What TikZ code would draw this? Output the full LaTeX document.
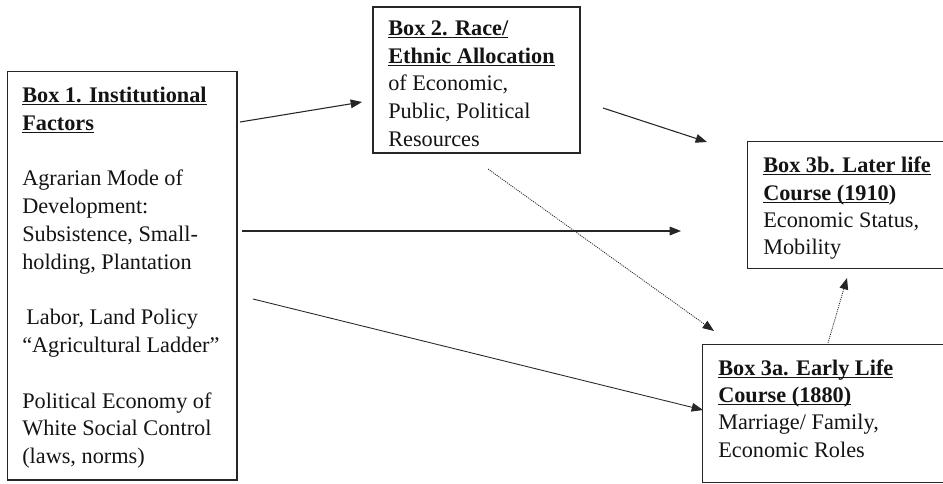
\documentclass[tikz,border=0pt]{standalone}
\usepackage{fontspec}
\setmainfont{Liberation Serif}
\usetikzlibrary{arrows.meta,fit}
\newcommand{\ulx}[1]{\setbox0=\hbox{#1}\rlap{\rule[-2.4pt]{\wd0}{1.1pt}}\box0}
\begin{document}
\begin{tikzpicture}[x=0.75pt,y=-0.75pt,
  box/.style={draw=black!85, line width=0.8pt, inner sep=0pt},
  bigbox/.style={box, line width=1.1pt},
  openbox/.style={inner sep=0pt},
  edge/.style={draw=black!85, line width=0.8pt},
  txt/.style={anchor=base west, inner sep=0pt, text=black!92, font=\fontsize{16.7}{20}\selectfont},
  btxt/.style={txt, font=\fontsize{16.7}{20}\selectfont\bfseries},
  arr/.style={line width=0.8pt, draw=black!85, -{Triangle[length=8.5pt,width=6.5pt]}},
  darr/.style={line width=0.6pt, draw=black!85, dash pattern=on 0.8pt off 0.8pt, -{Triangle[length=8.5pt,width=6.5pt]}}
]
\useasboundingbox (0,0) rectangle (943,483);
\fill[white] (0,0) rectangle (943,483);

% boxes
\node[bigbox, fit={(7.5,71.5) (237,480)}] (b1) {};
\node[box, fit={(373,7) (580,153)}] (b2) {};
\node[openbox, fit={(748,142) (943,268)}] (b3b) {};
\node[openbox, fit={(703,345) (943,482)}] (b3a) {};
\draw[edge] (b3b.north east) -- (b3b.north west) -- (b3b.south west) -- (b3b.south east);
\draw[edge] (b3a.north east) -- (b3a.north west) -- (b3a.south west) -- (b3a.south east);

% Box 1 text
\node[btxt] (b1t1) at (22,102) {\ulx{Box 1. Institutional}};
\node[btxt] (b1t2) at (22,130) {\ulx{Factors}};
\node[txt] (b1t3) at (22,185) {Agrarian Mode of};
\node[txt] (b1t4) at (22,213) {Development:};
\node[txt] (b1t5) at (22,241) {Subsistence, Small-};
\node[txt] (b1t6) at (22,269) {holding, Plantation};
\node[txt] (b1t7) at (26,324) {Labor, Land Policy};
\node[txt] (b1t8) at (22,352) {“Agricultural Ladder”};
\node[txt] (b1t9) at (22,408) {Political Economy of};
\node[txt] (b1t10) at (22,435) {White Social Control};
\node[txt] (b1t11) at (22,463) {(laws, norms)};

% Box 2 text
\node[btxt] (b2t1) at (388,35) {\ulx{Box 2. Race/}};
\node[btxt] (b2t2) at (388,63) {\ulx{Ethnic Allocation}};
\node[txt] (b2t3) at (388,90) {of Economic,};
\node[txt] (b2t4) at (388,118) {Public, Political};
\node[txt] (b2t5) at (388,146) {Resources};

% Box 3b text
\node[btxt] (b3bt1) at (763,172) {\ulx{Box 3b. Later life}};
\node[btxt] (b3bt2) at (763,200) {\ulx{Course (1910})};
\node[txt] (b3bt3) at (763,227) {Economic Status,};
\node[txt] (b3bt4) at (763,254) {Mobility};

% Box 3a text
\node[btxt] (b3at1) at (718,375) {\ulx{Box 3a. Early Life}};
\node[btxt] (b3at2) at (718,402) {\ulx{Course (1880)}};
\node[txt] (b3at3) at (718,429) {Marriage/ Family,};
\node[txt] (b3at4) at (718,457) {Economic Roles};

% connector end points
\coordinate (a1s) at (240,122); \coordinate (a1e) at (362,102);
\coordinate (a2s) at (603,108); \coordinate (a2e) at (707,142);
\coordinate (a3s) at (242,231); \coordinate (a3e) at (681,231);
\coordinate (a4s) at (253,299); \coordinate (a4e) at (703,410);
\coordinate (a5s) at (488,169); \coordinate (a5e) at (714,331);
\coordinate (a6s) at (828,343); \coordinate (a6e) at (847,278);

\draw[arr] (a1s) -- (a1e);
\draw[arr] (a2s) -- (a2e);
\draw[arr] (a3s) -- (a3e);
\draw[arr, line width=0.65pt] (a4s) -- (a4e);
\draw[darr] (a5s) -- (a5e);
\draw[darr] (a6s) -- (a6e);
\end{tikzpicture}
\end{document}
